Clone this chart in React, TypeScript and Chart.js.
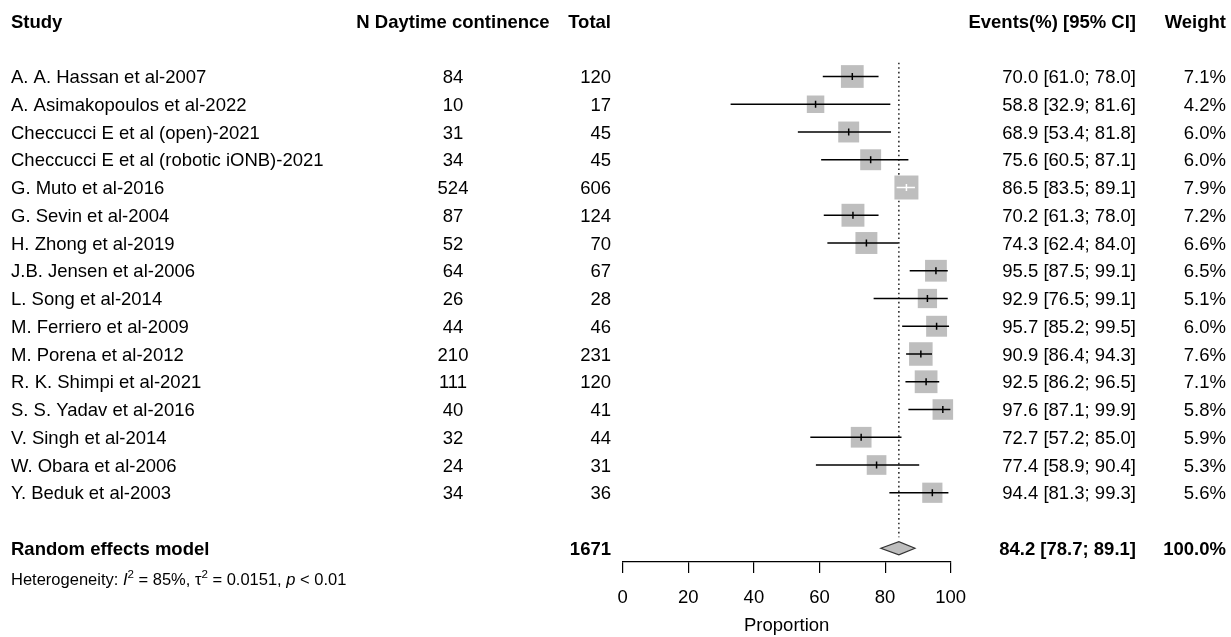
import React, { useEffect, useRef } from "react";
import { Chart, registerables } from "chart.js";

Chart.register(...registerables);

const studies = [
  "A. A. Hassan et al-2007",
  "A. Asimakopoulos et al-2022",
  "Checcucci E et al (open)-2021",
  "Checcucci E et al (robotic iONB)-2021",
  "G. Muto et al-2016",
  "G. Sevin et al-2004",
  "H. Zhong et al-2019",
  "J.B. Jensen et al-2006",
  "L. Song et al-2014",
  "M. Ferriero et al-2009",
  "M. Porena et al-2012",
  "R. K. Shimpi et al-2021",
  "S. S. Yadav et al-2016",
  "V. Singh et al-2014",
  "W. Obara et al-2006",
  "Y. Beduk et al-2003",
];
const events = [84, 10, 31, 34, 524, 87, 52, 64, 26, 44, 210, 111, 40, 32, 24, 34];
const totals = [120, 17, 45, 45, 606, 124, 70, 67, 28, 46, 231, 120, 41, 44, 31, 36];
const estimates = [70.0, 58.8, 68.9, 75.6, 86.5, 70.2, 74.3, 95.5, 92.9, 95.7, 90.9, 92.5, 97.6, 72.7, 77.4, 94.4];
const lowers = [61.0, 32.9, 53.4, 60.5, 83.5, 61.3, 62.4, 87.5, 76.5, 85.2, 86.4, 86.2, 87.1, 57.2, 58.9, 81.3];
const uppers = [78.0, 81.6, 81.8, 87.1, 89.1, 78.0, 84.0, 99.1, 99.1, 99.5, 94.3, 96.5, 99.9, 85.0, 90.4, 99.3];
const weights = [7.1, 4.2, 6.0, 6.0, 7.9, 7.2, 6.6, 6.5, 5.1, 6.0, 7.6, 7.1, 5.8, 5.9, 5.3, 5.6];

const pooledLabel = "Random effects model";
const pooledTotal = 1671;
const pooledEstimate = 84.2;
const pooledLower = 78.7;
const pooledUpper = 89.1;
const pooledWeight = 100.0;

const xTicks = [0, 20, 40, 60, 80, 100];
const xTitle = "Proportion";
const headerStudy = "Study";
const headerEvents = "N Daytime continence";
const headerTotal = "Total";
const headerCI = "Events(%) [95% CI]";
const headerWeight = "Weight";
const hetI2 = "85%";
const hetTau2 = "0.0151";
const hetP = "< 0.01";

const FONT = "'Liberation Sans', Arial, Helvetica, sans-serif";
const FS = 18.5;
const HFS = 16.5;
const ROW_PX = 27.75;
const TOP_PX = 21;
const TEXT_DY = 1.5;
const SQUARE_MAX = 24;
const MAX_W = Math.max(...weights);

const fmt = (v: number) => v.toFixed(1);

function drawText(
  ctx: CanvasRenderingContext2D,
  str: string,
  x: number,
  y: number,
  align: CanvasTextAlign,
  bold = false,
  size = FS,
  italic = false
) {
  ctx.save();
  ctx.font = `${italic ? "italic " : ""}${bold ? "bold " : ""}${size}px ${FONT}`;
  ctx.fillStyle = "#000";
  ctx.textAlign = align;
  ctx.textBaseline = "middle";
  ctx.fillText(str, x, y + TEXT_DY);
  ctx.restore();
}

const forestPlugin = {
  id: "forest",
  beforeDatasetsDraw(chart: any) {
    const { ctx } = chart;
    const xs = chart.scales.x;
    const ys = chart.scales.y;
    const x = xs.getPixelForValue(pooledEstimate);
    ctx.save();
    ctx.strokeStyle = "#000";
    ctx.lineWidth = 1.3;
    ctx.setLineDash([1.6, 3]);
    ctx.beginPath();
    ctx.moveTo(x, ys.getPixelForValue(1.5));
    ctx.lineTo(x, ys.getPixelForValue(18.6));
    ctx.stroke();
    ctx.restore();
  },
  afterDatasetsDraw(chart: any) {
    const { ctx } = chart;
    const xs = chart.scales.x;
    const ys = chart.scales.y;
    ctx.save();
    estimates.forEach((est, i) => {
      const y = ys.getPixelForValue(i + 2);
      const cx = xs.getPixelForValue(est);
      const x1 = xs.getPixelForValue(lowers[i]);
      const x2 = xs.getPixelForValue(uppers[i]);
      const half = (SQUARE_MAX * Math.sqrt(weights[i] / MAX_W)) / 2;
      const inside = x1 >= cx - half && x2 <= cx + half;
      ctx.strokeStyle = inside ? "#ffffff" : "#000000";
      ctx.lineWidth = 1.5;
      ctx.beginPath();
      ctx.moveTo(x1, y);
      ctx.lineTo(x2, y);
      ctx.stroke();
      ctx.beginPath();
      ctx.moveTo(cx, y - 3.5);
      ctx.lineTo(cx, y + 3.5);
      ctx.stroke();
    });
    const dy = ys.getPixelForValue(19);
    ctx.beginPath();
    ctx.moveTo(xs.getPixelForValue(pooledLower), dy);
    ctx.lineTo(xs.getPixelForValue(pooledEstimate), dy - 6.5);
    ctx.lineTo(xs.getPixelForValue(pooledUpper), dy);
    ctx.lineTo(xs.getPixelForValue(pooledEstimate), dy + 6.5);
    ctx.closePath();
    ctx.fillStyle = "#bebebe";
    ctx.fill();
    ctx.strokeStyle = "#333";
    ctx.lineWidth = 1.2;
    ctx.stroke();
    ctx.restore();
  },
  afterDraw(chart: any) {
    const { ctx } = chart;
    const ys = chart.scales.y;
    const xStudy = 11;
    const xEvents = 453;
    const xTotal = 611;
    const xCI = 1136;
    const xW = 1226;
    const hy = ys.getPixelForValue(0);
    drawText(ctx, headerStudy, xStudy, hy, "left", true);
    drawText(ctx, headerEvents, xEvents, hy, "center", true);
    drawText(ctx, headerTotal, xTotal, hy, "right", true);
    drawText(ctx, headerCI, xCI, hy, "right", true);
    drawText(ctx, headerWeight, xW, hy, "right", true);
    studies.forEach((s, i) => {
      const y = ys.getPixelForValue(i + 2);
      drawText(ctx, s, xStudy, y, "left");
      drawText(ctx, String(events[i]), xEvents, y, "center");
      drawText(ctx, String(totals[i]), xTotal, y, "right");
      drawText(ctx, `${fmt(estimates[i])} [${fmt(lowers[i])}; ${fmt(uppers[i])}]`, xCI, y, "right");
      drawText(ctx, `${fmt(weights[i])}%`, xW, y, "right");
    });
    const ry = ys.getPixelForValue(19);
    drawText(ctx, pooledLabel, xStudy, ry, "left", true);
    drawText(ctx, String(pooledTotal), xTotal, ry, "right", true);
    drawText(ctx, `${fmt(pooledEstimate)} [${fmt(pooledLower)}; ${fmt(pooledUpper)}]`, xCI, ry, "right", true);
    drawText(ctx, `${fmt(pooledWeight)}%`, xW, ry, "right", true);

    const hy2 = ys.getPixelForValue(20.12) + TEXT_DY;
    const parts: [string, boolean, boolean][] = [
      ["Heterogeneity: ", false, false],
      ["I", true, false],
      ["2", false, true],
      [` = ${hetI2}, `, false, false],
      ["\u03c4", false, false],
      ["2", false, true],
      [` = ${hetTau2}, `, false, false],
      ["p", true, false],
      [` ${hetP}`, false, false],
    ];
    let x = xStudy;
    ctx.save();
    ctx.fillStyle = "#000";
    ctx.textAlign = "left";
    ctx.textBaseline = "middle";
    parts.forEach(([str, ital, sup]) => {
      const size = sup ? HFS * 0.7 : HFS;
      ctx.font = `${ital ? "italic " : ""}${size}px ${FONT}`;
      ctx.fillText(str, x, sup ? hy2 - 6 : hy2);
      x += ctx.measureText(str).width;
    });
    ctx.restore();
  },
};

export default function App() {
  const ref = useRef<HTMLCanvasElement | null>(null);
  useEffect(() => {
    document.body.style.margin = "0";
    const canvas = ref.current;
    if (!canvas) return;
    const chart = new Chart(canvas, {
      type: "scatter",
      data: {
        datasets: [
          {
            data: estimates.map((e, i) => ({ x: e, y: i + 2 })),
            pointStyle: "rect",
            pointRadius: weights.map((w) => (SQUARE_MAX * Math.sqrt(w / MAX_W)) / Math.SQRT2),
            pointHoverRadius: weights.map((w) => (SQUARE_MAX * Math.sqrt(w / MAX_W)) / Math.SQRT2),
            backgroundColor: "#bebebe",
            borderWidth: 0,
            clip: false as any,
          },
        ],
      },
      options: {
        animation: false,
        responsive: false,
        devicePixelRatio: 1,
        events: [],
        layout: { padding: { left: 622.7, right: 280.3, top: 0, bottom: 0 } },
        plugins: { legend: { display: false }, tooltip: { enabled: false } },
        scales: {
          x: {
            type: "linear",
            position: "bottom",
            min: 0,
            max: 100,
            afterBuildTicks: (s: any) => {
              s.ticks = xTicks.map((v) => ({ value: v }));
            },
            afterFit: (s: any) => {
              s.height = 75;
            },
            border: { display: true, color: "#000", width: 1.2 },
            grid: {
              display: true,
              drawOnChartArea: false,
              drawTicks: true,
              tickLength: 11,
              color: "#000",
              tickColor: "#000",
              lineWidth: 1.2,
            },
            ticks: {
              color: "#000",
              font: { family: FONT, size: FS },
              padding: 14,
              maxRotation: 0,
              autoSkip: false,
            },
            title: {
              display: true,
              text: xTitle,
              color: "#000",
              font: { family: FONT, size: FS },
              padding: { top: 0, bottom: 0 },
            },
          },
          y: {
            type: "linear",
            display: false,
            min: 0,
            max: 20,
            reverse: true,
          },
        },
      },
      plugins: [forestPlugin],
    });
    const ca = chart.chartArea;
    (chart.options.scales as any).y.min = (ca.top - TOP_PX) / ROW_PX;
    (chart.options.scales as any).y.max = (ca.bottom - TOP_PX) / ROW_PX;
    chart.update();
    return () => chart.destroy();
  }, []);
  return <canvas ref={ref} width={1231} height={637} style={{ display: "block" }} />;
}
